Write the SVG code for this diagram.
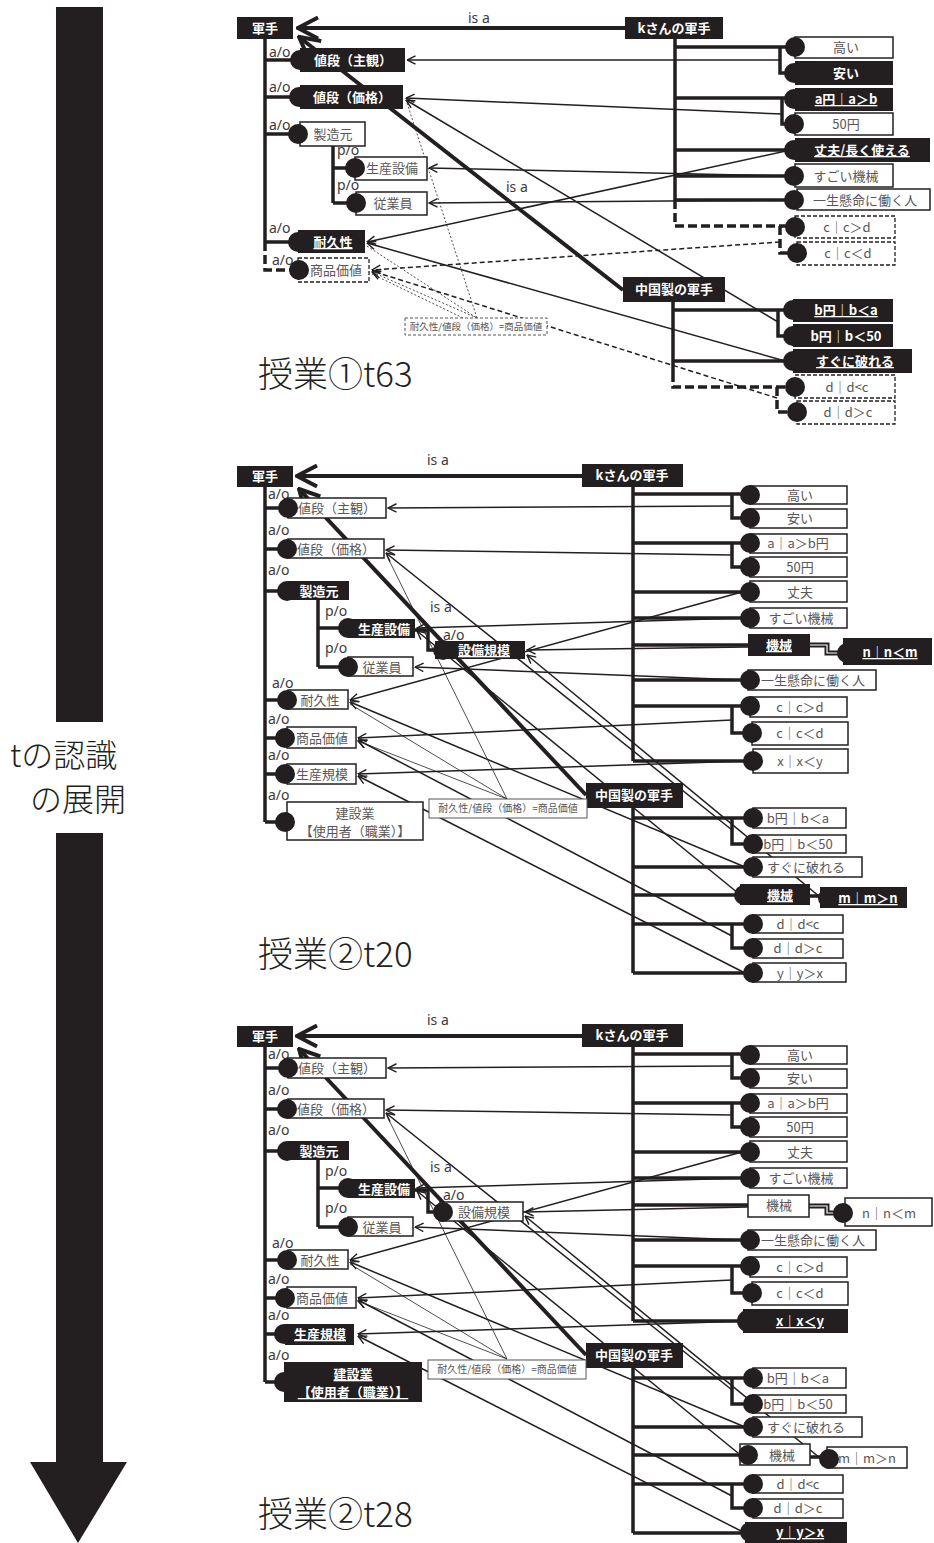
<svg xmlns="http://www.w3.org/2000/svg" width="934" height="1543" viewBox="0 0 934 1543">
<defs>
<style>
.bk{fill:#231f20}
.wb{fill:#fff;stroke:#231f20;stroke-width:1.5}
.db{fill:#fff;stroke:#231f20;stroke-width:1.3;stroke-dasharray:4 2}
.fb{fill:#fff;stroke:#595757;stroke-width:1}
.fbd{fill:#fff;stroke:#595757;stroke-width:1;stroke-dasharray:3 2}
.tw{font-family:"Noto Sans CJK JP","Noto Sans",sans-serif;font-size:13px;font-weight:700;fill:#fff;text-anchor:middle}
.tg{font-family:"Noto Sans CJK JP","Noto Sans",sans-serif;font-size:13px;fill:#595757;text-anchor:middle}
.u{text-decoration:underline}
.fm{font-family:"Noto Sans CJK JP","Noto Sans",sans-serif;font-size:10px;fill:#595757;text-anchor:middle}
.tr{fill:none;stroke:#231f20;stroke-width:3.5}
.trd{fill:none;stroke:#231f20;stroke-width:3.5;stroke-dasharray:9 4}
.hl{fill:none;stroke:#fff;stroke-width:1.2}
.ln{fill:none;stroke:#231f20;stroke-width:1.5;marker-end:url(#oa)}
.lnd{fill:none;stroke:#231f20;stroke-width:1.5;stroke-dasharray:5 3;marker-end:url(#oa)}
.ldt{fill:none;stroke:#231f20;stroke-width:0.8;stroke-dasharray:2 2}
.lt{fill:none;stroke:#231f20;stroke-width:0.8}
.isa{fill:none;stroke:#231f20;stroke-width:4;marker-end:url(#ba)}
.lb{font-family:"Noto Sans","Liberation Sans",sans-serif;font-size:14px;fill:#3e3a39}
.ttl{font-family:"Noto Sans CJK JP","Noto Sans",sans-serif;font-size:35px;font-weight:300;fill:#231f20}
.side{font-family:"Noto Sans CJK JP","Noto Sans",sans-serif;font-size:32px;font-weight:300;fill:#231f20}
</style>
<marker id="oa" viewBox="0 0 10 10" refX="9.5" refY="5" markerWidth="10" markerHeight="10" markerUnits="userSpaceOnUse" orient="auto"><path d="M1,0.8 L9.5,5 L1,9.2" fill="none" stroke="#231f20" stroke-width="1.4"/></marker>
<marker id="ba" viewBox="0 0 24 24" refX="22" refY="12" markerWidth="24" markerHeight="24" markerUnits="userSpaceOnUse" orient="auto"><path d="M2,1.5 L22,12 L2,22.5" fill="none" stroke="#231f20" stroke-width="4"/></marker>
</defs>
<rect width="934" height="1543" fill="#fff"/>

<g id="time-arrow">
<rect x="56" y="7" width="47" height="715" class="bk"/>
<rect x="56" y="833" width="47" height="630" class="bk"/>
<polygon points="30,1462 127,1462 78,1543" class="bk"/>
<text class="side" x="10" y="767">tの認識</text>
<text class="side" x="30" y="811">の展開</text>
</g>

<!-- ================= SECTION 1 ================= -->
<g id="s1">
<g id="s1-connectors">
<path class="isa" d="M625,28 L298,28"/>
<path class="isa" d="M623,290 L299,37"/>
<text class="lb" x="468" y="23">is a</text>
<text class="lb" x="506" y="192">is a</text>
<path class="tr" d="M265,39 V242 M265,60 H292 M265,97 H291 M265,134 H290 M265,242 H290 M333,146 V203 M333,168 H347 M333,203 H348"/>
<path class="trd" d="M265,242 V270 H290"/>
<path class="tr" d="M675,39 V200 M675,47 H787 M780,47 V73 H786 M675,98 H786 M782,98 V124 H786 M675,150 H786 M675,176 H786 M675,200 H786"/>
<path class="trd" d="M675,200 V226 H787 M780,226 V253 H789"/>
<path class="tr" d="M673,302 V373 M673,310 H785 M778,310 V336 H785 M673,361 H785"/>
<path class="trd" d="M673,373 V387 H787 M777,387 V412 H789"/>
<text class="lb" x="269" y="57">a/o</text>
<text class="lb" x="269" y="92">a/o</text>
<text class="lb" x="269" y="130">a/o</text>
<text class="lb" x="269" y="233">a/o</text>
<text class="lb" x="272" y="265">a/o</text>
<text class="lb" x="337" y="155">p/o</text>
<text class="lb" x="337" y="190">p/o</text>
<path class="ln" d="M780,60 L407,60"/>
<path class="ln" d="M782,114 L406,98"/>
<path class="ln" d="M778,322 L406,100"/>
<path class="ln" d="M786,176 L429,168"/>
<path class="ln" d="M786,200 L429,203"/>
<path class="ln" d="M786,151 L367,242"/>
<path class="ln" d="M785,361 L367,243"/>
<path class="lnd" d="M780,242 L372,270"/>
<path class="lnd" d="M777,398 L372,271"/>
<path class="ldt" d="M407,103 L477,318"/>
<path class="ldt" d="M367,246 L477,318"/>
<path class="ldt" d="M477,318 L372,272" style="marker-end:url(#oa)"/>
<path class="ldt" d="M463,318 L372,274"/>
</g>
<g id="s1-gunte"><rect class="bk" x="237" y="17" width="56" height="22"/><text class="tw" x="265" y="33">軍手</text></g>
<g id="s1-k"><rect class="bk" x="625" y="17" width="98" height="22"/><text class="tw" x="674" y="33">kさんの軍手</text></g>
<g id="s1-china"><rect class="bk" x="623" y="277" width="102" height="25"/><text class="tw" x="674" y="294">中国製の軍手</text></g>
<g id="s1-nedan-shukan"><rect class="bk" x="300" y="48" width="105" height="24"/><circle class="bk" cx="300" cy="60" r="10"/><text class="tw" x="353" y="65">値段（主観）</text></g>
<g id="s1-nedan-kakaku"><rect class="bk" x="300" y="85" width="103" height="24"/><circle class="bk" cx="299" cy="97" r="10"/><text class="tw" x="352" y="102">値段（価格）</text></g>
<g id="s1-seizomoto"><rect class="wb" x="300" y="122" width="65" height="24"/><circle class="bk" cx="298" cy="134" r="10"/><text class="tg" x="333" y="139">製造元</text></g>
<g id="s1-seisan-setsubi"><rect class="wb" x="355" y="157" width="72" height="23"/><circle class="bk" cx="355" cy="168" r="10"/><text class="tg" x="392" y="173">生産設備</text></g>
<g id="s1-jugyoin"><rect class="wb" x="356" y="192" width="71" height="23"/><circle class="bk" cx="356" cy="203" r="10"/><text class="tg" x="393" y="208">従業員</text></g>
<g id="s1-taikyusei"><rect class="bk" x="298" y="230" width="67" height="23"/><circle class="bk" cx="298" cy="242" r="10"/><text class="tw u" x="333" y="247">耐久性</text></g>
<g id="s1-shohin-kachi"><rect class="db" x="298" y="258" width="71" height="24"/><circle class="bk" cx="299" cy="270" r="10"/><text class="tg" x="336" y="275">商品価値</text></g>
<g id="s1-formula"><rect class="fbd" x="405" y="318" width="142" height="17"/><text class="fm" x="476" y="330" style="font-size:9.5px">耐久性/値段（価格）=商品価値</text></g>
<g id="s1-takai"><rect class="wb" x="795" y="37" width="98" height="21"/><circle class="bk" cx="795" cy="47" r="10"/><text class="tg" x="846" y="52">高い</text></g>
<g id="s1-yasui"><rect class="bk" x="795" y="61" width="98" height="24"/><circle class="bk" cx="794" cy="73" r="10"/><text class="tw" x="846" y="78">安い</text></g>
<g id="s1-a"><rect class="bk" x="795" y="88" width="98" height="23"/><circle class="bk" cx="794" cy="99" r="10"/><text class="tw u" x="846" y="104">a円｜a＞b</text></g>
<g id="s1-50"><rect class="wb" x="795" y="113" width="98" height="22"/><circle class="bk" cx="794" cy="124" r="10"/><text class="tg" x="846" y="129">50円</text></g>
<g id="s1-joubu"><rect class="bk" x="795" y="138" width="135" height="24"/><circle class="bk" cx="794" cy="150" r="10"/><text class="tw u" x="862" y="155">丈夫/長く使える</text></g>
<g id="s1-sugoi"><rect class="wb" x="795" y="164" width="98" height="23"/><circle class="bk" cx="794" cy="176" r="10"/><text class="tg" x="846" y="181">すごい機械</text></g>
<g id="s1-isshou"><rect class="wb" x="797" y="189" width="133" height="21"/><circle class="bk" cx="794" cy="200" r="10"/><text class="tg" x="865" y="205">一生懸命に働く人</text></g>
<g id="s1-cgt"><rect class="db" x="795" y="216" width="100" height="22"/><circle class="bk" cx="795" cy="227" r="10"/><text class="tg" x="847" y="232">c｜c＞d</text></g>
<g id="s1-clt"><rect class="db" x="797" y="242" width="98" height="23"/><circle class="bk" cx="797" cy="253" r="10"/><text class="tg" x="848" y="258">c｜c＜d</text></g>
<g id="s1-blta"><rect class="bk" x="793" y="299" width="100" height="23"/><circle class="bk" cx="793" cy="310" r="10"/><text class="tw u" x="846" y="315">b円｜b＜a</text></g>
<g id="s1-blt50"><rect class="bk" x="793" y="324" width="100" height="23"/><circle class="bk" cx="793" cy="336" r="10"/><text class="tw" x="846" y="341">b円｜b＜50</text></g>
<g id="s1-sugu"><rect class="bk" x="793" y="349" width="119" height="24"/><circle class="bk" cx="793" cy="361" r="10"/><text class="tw u" x="855" y="366">すぐに破れる</text></g>
<g id="s1-dltc"><rect class="db" x="795" y="375" width="100" height="23"/><circle class="bk" cx="795" cy="387" r="10"/><text class="tg" x="847" y="392">d｜d&lt;c</text></g>
<g id="s1-dgtc"><rect class="db" x="797" y="401" width="98" height="23"/><circle class="bk" cx="797" cy="412" r="10"/><text class="tg" x="848" y="417">d｜d＞c</text></g>
<text class="ttl" x="258" y="387">授業①t63</text>
</g>

<!-- ================= SECTION 2 ================= -->
<g id="s2">
<g id="s2-connectors">
<path class="isa" d="M582,476 L297,476"/>
<path class="isa" d="M586,795 L299,489"/>
<text class="lb" x="427" y="465">is a</text>
<text class="lb" x="430" y="612">is a</text>
<path class="tr" d="M265,487 V822 M265,508 H280 M265,549 H279 M265,591 H279 M265,700 H279 M265,738 H277 M265,774 H277 M265,822 H277 M318,600 V667 M318,628 H340 M318,667 H340 M415,630 H428 V650 H435"/>
<path class="tr" d="M633,487 V761 M633,494 H742 M732,494 V518 H742 M633,543 H742 M732,543 V567 H742 M633,592 H742 M633,618 H742 M633,645 H748 M633,680 H742 M633,706 H742 M732,706 V733 H744 M633,761 H745"/>
<path class="tr" d="M810,645 H827 V653 H839" style="stroke-width:5"/>
<path class="hl" d="M810,645 H827 V653 H839"/>
<path class="tr" d="M633,808 V973 M633,818 H745 M732,818 V844 H745 M633,867 H745 M633,895 H736 M810,896 H820 M633,924 H745 M732,924 V948 H745 M633,973 H745"/>
<text class="lb" x="268" y="499">a/o</text>
<text class="lb" x="268" y="535">a/o</text>
<text class="lb" x="268" y="575">a/o</text>
<text class="lb" x="272" y="688">a/o</text>
<text class="lb" x="268" y="724">a/o</text>
<text class="lb" x="268" y="760">a/o</text>
<text class="lb" x="268" y="800">a/o</text>
<text class="lb" x="325" y="616">p/o</text>
<text class="lb" x="325" y="653">p/o</text>
<text class="lb" x="443" y="640">a/o</text>
<path class="ln" d="M732,506 L388,508"/>
<path class="ln" d="M732,555 L386,550"/>
<path class="ln" d="M732,830 L386,553"/>
<path class="ln" d="M742,618 L417,628"/>
<path class="ln" d="M748,647 L527,650"/>
<path class="ln" d="M742,680 L415,667"/>
<path class="ln" d="M742,592 L350,700"/>
<path class="ln" d="M745,867 L350,702"/>
<path class="ln" d="M732,720 L358,738"/>
<path class="ln" d="M732,936 L358,740"/>
<path class="ln" d="M745,761 L358,774"/>
<path class="ln" d="M745,973 L358,776"/>
<path class="ln" d="M820,897 L527,655"/>
<path class="ln" d="M738,893 L417,631"/>
<path class="lt" d="M387,556 L507,799"/>
<path class="lt" d="M350,704 L507,799"/>
<path class="lt" d="M507,799 L358,741" style="marker-end:url(#oa)"/>
</g>
<g id="s2-gunte"><rect class="bk" x="237" y="466" width="56" height="21"/><text class="tw" x="265" y="481">軍手</text></g>
<g id="s2-k"><rect class="bk" x="582" y="464" width="101" height="23"/><text class="tw" x="632" y="480">kさんの軍手</text></g>
<g id="s2-china"><rect class="bk" x="586" y="783" width="97" height="25"/><text class="tw" x="634" y="800">中国製の軍手</text></g>
<g id="s2-nedan-shukan"><rect class="wb" x="288" y="498" width="98" height="20"/><circle class="bk" cx="288" cy="508" r="10"/><text class="tg" x="337" y="513">値段（主観）</text></g>
<g id="s2-nedan-kakaku"><rect class="wb" x="288" y="539" width="96" height="19"/><circle class="bk" cx="287" cy="549" r="10"/><text class="tg" x="336" y="554">値段（価格）</text></g>
<g id="s2-seizomoto"><rect class="bk" x="288" y="581" width="61" height="19"/><circle class="bk" cx="287" cy="591" r="10"/><text class="tw" x="319" y="596">製造元</text></g>
<g id="s2-seisan-setsubi"><rect class="bk" x="348" y="619" width="67" height="19"/><circle class="bk" cx="348" cy="628" r="10"/><text class="tw" x="384" y="634">生産設備</text></g>
<g id="s2-jugyoin"><rect class="wb" x="348" y="657" width="65" height="19"/><circle class="bk" cx="348" cy="667" r="10"/><text class="tg" x="382" y="672">従業員</text></g>
<g id="s2-setsubi-kibo"><rect class="bk" x="435" y="641" width="90" height="18"/><circle class="bk" cx="443" cy="650" r="10"/><text class="tw u" x="484" y="655">設備規模</text></g>
<g id="s2-taikyusei"><rect class="wb" x="288" y="690" width="60" height="19"/><circle class="bk" cx="287" cy="700" r="10"/><text class="tg" x="320" y="705">耐久性</text></g>
<g id="s2-shohin-kachi"><rect class="wb" x="287" y="727" width="69" height="21"/><circle class="bk" cx="285" cy="738" r="10"/><text class="tg" x="322" y="743">商品価値</text></g>
<g id="s2-seisan-kibo"><rect class="wb" x="287" y="764" width="69" height="20"/><circle class="bk" cx="285" cy="774" r="10"/><text class="tg" x="322" y="779">生産規模</text></g>
<g id="s2-kensetsu"><rect class="wb" x="287" y="802" width="136" height="38"/><circle class="bk" cx="285" cy="822" r="10"/><text class="tg" x="355" y="818">建設業</text><text class="tg" x="355" y="836">【使用者（職業）】</text></g>
<g id="s2-formula"><rect class="fb" x="429" y="799" width="158" height="19"/><text class="fm" x="508" y="812">耐久性/値段（価格）=商品価値</text></g>
<g id="s2-takai"><rect class="wb" x="750" y="486" width="97" height="18"/><circle class="bk" cx="750" cy="495" r="10"/><text class="tg" x="800" y="500">高い</text></g>
<g id="s2-yasui"><rect class="wb" x="750" y="509" width="97" height="19"/><circle class="bk" cx="750" cy="518" r="10"/><text class="tg" x="800" y="523">安い</text></g>
<g id="s2-a"><rect class="wb" x="750" y="534" width="97" height="19"/><circle class="bk" cx="750" cy="543" r="10"/><text class="tg" x="798" y="548">a｜a＞b円</text></g>
<g id="s2-50"><rect class="wb" x="750" y="557" width="97" height="20"/><circle class="bk" cx="750" cy="567" r="10"/><text class="tg" x="800" y="572">50円</text></g>
<g id="s2-joubu"><rect class="wb" x="750" y="581" width="97" height="21"/><circle class="bk" cx="750" cy="592" r="10"/><text class="tg" x="800" y="597">丈夫</text></g>
<g id="s2-sugoi"><rect class="wb" x="750" y="608" width="97" height="20"/><circle class="bk" cx="750" cy="618" r="10"/><text class="tg" x="801" y="623">すごい機械</text></g>
<g id="s2-kikai-k"><rect class="bk" x="748" y="634" width="62" height="22"/><text class="tw u" x="779" y="650">機械</text></g>
<g id="s2-n"><rect class="bk" x="843" y="638" width="89" height="27"/><circle class="bk" cx="847" cy="653" r="10"/><text class="tw u" x="890" y="657">n｜n＜m</text></g>
<g id="s2-isshou"><rect class="wb" x="748" y="670" width="128" height="20"/><circle class="bk" cx="750" cy="680" r="10"/><text class="tg" x="813" y="685">一生懸命に働く人</text></g>
<g id="s2-cgt"><rect class="wb" x="750" y="697" width="97" height="20"/><circle class="bk" cx="750" cy="706" r="10"/><text class="tg" x="800" y="712">c｜c＞d</text></g>
<g id="s2-clt"><rect class="wb" x="752" y="722" width="96" height="23"/><circle class="bk" cx="752" cy="733" r="10"/><text class="tg" x="800" y="738">c｜c＜d</text></g>
<g id="s2-xlty"><rect class="wb" x="753" y="749" width="95" height="24"/><circle class="bk" cx="753" cy="761" r="10"/><text class="tg" x="800" y="766">x｜x＜y</text></g>
<g id="s2-blta"><rect class="wb" x="753" y="808" width="93" height="20"/><circle class="bk" cx="753" cy="818" r="10"/><text class="tg" x="798" y="823">b円｜b＜a</text></g>
<g id="s2-blt50"><rect class="wb" x="753" y="835" width="93" height="18"/><circle class="bk" cx="753" cy="844" r="10"/><text class="tg" x="798" y="849">b円｜b＜50</text></g>
<g id="s2-sugu"><rect class="wb" x="753" y="857" width="109" height="20"/><circle class="bk" cx="753" cy="867" r="10"/><text class="tg" x="806" y="872">すぐに破れる</text></g>
<g id="s2-kikai-c"><rect class="bk" x="740" y="884" width="70" height="21"/><circle class="bk" cx="744" cy="895" r="10"/><text class="tw u" x="780" y="900">機械</text></g>
<g id="s2-m"><rect class="bk" x="820" y="887" width="87" height="21"/><circle class="bk" cx="828" cy="898" r="10"/><text class="tw u" x="868" y="903">m｜m＞n</text></g>
<g id="s2-dltc"><rect class="wb" x="753" y="915" width="90" height="18"/><circle class="bk" cx="753" cy="924" r="10"/><text class="tg" x="798" y="929">d｜d&lt;c</text></g>
<g id="s2-dgtc"><rect class="wb" x="753" y="939" width="90" height="19"/><circle class="bk" cx="753" cy="948" r="10"/><text class="tg" x="798" y="953">d｜d＞c</text></g>
<g id="s2-yrtx"><rect class="wb" x="753" y="963" width="93" height="19"/><circle class="bk" cx="753" cy="973" r="10"/><text class="tg" x="800" y="978">y｜y＞x</text></g>
<text class="ttl" x="258" y="967">授業②t20</text>
</g>

<!-- ================= SECTION 3 ================= -->
<g id="s3" transform="translate(0,560)">
<g id="s3-connectors">
<path class="isa" d="M582,476 L297,476"/>
<path class="isa" d="M586,795 L299,489"/>
<text class="lb" x="427" y="465">is a</text>
<text class="lb" x="430" y="612">is a</text>
<path class="tr" d="M265,487 V822 M265,508 H280 M265,549 H279 M265,591 H279 M265,700 H279 M265,738 H277 M265,774 H277 M265,822 H277 M318,600 V667 M318,628 H340 M318,667 H340 M415,630 H428 V652 H435"/>
<path class="tr" d="M633,487 V761 M633,494 H742 M732,494 V518 H742 M633,543 H742 M732,543 V567 H742 M633,592 H742 M633,618 H742 M633,645 H748 M633,680 H742 M633,706 H742 M732,706 V733 H744 M633,761 H745"/>
<path class="tr" d="M809,646 H827 V653 H837" style="stroke-width:5"/>
<path class="hl" d="M809,646 H827 V653 H837"/>
<path class="tr" d="M633,808 V973 M633,818 H745 M732,818 V844 H745 M633,867 H745 M633,895 H740 M810,897 H820 M633,924 H745 M732,924 V948 H745 M633,973 H745"/>
<text class="lb" x="268" y="499">a/o</text>
<text class="lb" x="268" y="535">a/o</text>
<text class="lb" x="268" y="575">a/o</text>
<text class="lb" x="272" y="688">a/o</text>
<text class="lb" x="268" y="724">a/o</text>
<text class="lb" x="268" y="760">a/o</text>
<text class="lb" x="268" y="800">a/o</text>
<text class="lb" x="325" y="616">p/o</text>
<text class="lb" x="325" y="653">p/o</text>
<text class="lb" x="443" y="640">a/o</text>
<path class="ln" d="M732,506 L388,508"/>
<path class="ln" d="M732,555 L386,550"/>
<path class="ln" d="M732,830 L386,553"/>
<path class="ln" d="M742,618 L417,628"/>
<path class="ln" d="M748,647 L525,652"/>
<path class="ln" d="M742,680 L415,667"/>
<path class="ln" d="M742,592 L350,700"/>
<path class="ln" d="M745,867 L350,702"/>
<path class="ln" d="M732,720 L358,738"/>
<path class="ln" d="M732,936 L358,740"/>
<path class="ln" d="M745,761 L358,774"/>
<path class="ln" d="M745,973 L358,776"/>
<path class="ln" d="M820,898 L525,656"/>
<path class="ln" d="M738,893 L417,631"/>
<path class="lt" d="M387,556 L507,799"/>
<path class="lt" d="M350,704 L507,799"/>
<path class="lt" d="M507,799 L358,741" style="marker-end:url(#oa)"/>
</g>
<g id="s3-gunte"><rect class="bk" x="237" y="466" width="56" height="21"/><text class="tw" x="265" y="481">軍手</text></g>
<g id="s3-k"><rect class="bk" x="582" y="464" width="101" height="23"/><text class="tw" x="632" y="480">kさんの軍手</text></g>
<g id="s3-china"><rect class="bk" x="586" y="783" width="97" height="25"/><text class="tw" x="634" y="800">中国製の軍手</text></g>
<g id="s3-nedan-shukan"><rect class="wb" x="288" y="498" width="98" height="20"/><circle class="bk" cx="288" cy="508" r="10"/><text class="tg" x="337" y="513">値段（主観）</text></g>
<g id="s3-nedan-kakaku"><rect class="wb" x="288" y="539" width="96" height="19"/><circle class="bk" cx="287" cy="549" r="10"/><text class="tg" x="336" y="554">値段（価格）</text></g>
<g id="s3-seizomoto"><rect class="bk" x="288" y="581" width="61" height="19"/><circle class="bk" cx="287" cy="591" r="10"/><text class="tw" x="319" y="596">製造元</text></g>
<g id="s3-seisan-setsubi"><rect class="bk" x="348" y="619" width="67" height="19"/><circle class="bk" cx="348" cy="628" r="10"/><text class="tw" x="384" y="634">生産設備</text></g>
<g id="s3-jugyoin"><rect class="wb" x="348" y="657" width="65" height="19"/><circle class="bk" cx="348" cy="667" r="10"/><text class="tg" x="382" y="672">従業員</text></g>
<g id="s3-setsubi-kibo"><rect class="wb" x="440" y="642" width="83" height="19"/><circle class="bk" cx="443" cy="652" r="10"/><text class="tg" x="484" y="657">設備規模</text></g>
<g id="s3-taikyusei"><rect class="wb" x="288" y="690" width="60" height="19"/><circle class="bk" cx="287" cy="700" r="10"/><text class="tg" x="320" y="705">耐久性</text></g>
<g id="s3-shohin-kachi"><rect class="wb" x="287" y="727" width="69" height="21"/><circle class="bk" cx="285" cy="738" r="10"/><text class="tg" x="322" y="743">商品価値</text></g>
<g id="s3-seisan-kibo"><rect class="bk" x="285" y="764" width="69" height="21"/><circle class="bk" cx="284" cy="774" r="10"/><text class="tw u" x="320" y="779">生産規模</text></g>
<g id="s3-kensetsu"><rect class="bk" x="284" y="802" width="138" height="40"/><circle class="bk" cx="284" cy="822" r="10"/><text class="tw u" x="353" y="819">建設業</text><text class="tw u" x="353" y="837">【使用者（職業）】</text></g>
<g id="s3-formula"><rect class="fb" x="428" y="800" width="158" height="19"/><text class="fm" x="507" y="813">耐久性/値段（価格）=商品価値</text></g>
<g id="s3-takai"><rect class="wb" x="750" y="486" width="97" height="18"/><circle class="bk" cx="750" cy="495" r="10"/><text class="tg" x="800" y="500">高い</text></g>
<g id="s3-yasui"><rect class="wb" x="750" y="509" width="97" height="19"/><circle class="bk" cx="750" cy="518" r="10"/><text class="tg" x="800" y="523">安い</text></g>
<g id="s3-a"><rect class="wb" x="750" y="534" width="97" height="19"/><circle class="bk" cx="750" cy="543" r="10"/><text class="tg" x="798" y="548">a｜a＞b円</text></g>
<g id="s3-50"><rect class="wb" x="750" y="557" width="97" height="20"/><circle class="bk" cx="750" cy="567" r="10"/><text class="tg" x="800" y="572">50円</text></g>
<g id="s3-joubu"><rect class="wb" x="750" y="581" width="97" height="21"/><circle class="bk" cx="750" cy="592" r="10"/><text class="tg" x="800" y="597">丈夫</text></g>
<g id="s3-sugoi"><rect class="wb" x="750" y="608" width="97" height="20"/><circle class="bk" cx="750" cy="618" r="10"/><text class="tg" x="801" y="623">すごい機械</text></g>
<g id="s3-kikai-k"><rect class="wb" x="748" y="635" width="61" height="22"/><text class="tg" x="779" y="650">機械</text></g>
<g id="s3-n"><rect class="wb" x="845" y="638" width="87" height="28"/><circle class="bk" cx="843" cy="653" r="10"/><text class="tg" x="889" y="658">n｜n＜m</text></g>
<g id="s3-isshou"><rect class="wb" x="748" y="670" width="128" height="20"/><circle class="bk" cx="750" cy="680" r="10"/><text class="tg" x="813" y="685">一生懸命に働く人</text></g>
<g id="s3-cgt"><rect class="wb" x="750" y="697" width="97" height="20"/><circle class="bk" cx="750" cy="706" r="10"/><text class="tg" x="800" y="712">c｜c＞d</text></g>
<g id="s3-clt"><rect class="wb" x="752" y="722" width="96" height="23"/><circle class="bk" cx="752" cy="733" r="10"/><text class="tg" x="800" y="738">c｜c＜d</text></g>
<g id="s3-xlty"><rect class="bk" x="743" y="749" width="105" height="24"/><circle class="bk" cx="748" cy="761" r="11"/><text class="tw u" x="800" y="766">x｜x＜y</text></g>
<g id="s3-blta"><rect class="wb" x="753" y="808" width="93" height="20"/><circle class="bk" cx="753" cy="818" r="10"/><text class="tg" x="798" y="823">b円｜b＜a</text></g>
<g id="s3-blt50"><rect class="wb" x="753" y="835" width="93" height="18"/><circle class="bk" cx="753" cy="844" r="10"/><text class="tg" x="798" y="849">b円｜b＜50</text></g>
<g id="s3-sugu"><rect class="wb" x="753" y="857" width="109" height="20"/><circle class="bk" cx="753" cy="867" r="10"/><text class="tg" x="806" y="872">すぐに破れる</text></g>
<g id="s3-kikai-c"><rect class="wb" x="740" y="884" width="70" height="21"/><circle class="bk" cx="748" cy="895" r="10"/><text class="tg" x="782" y="900">機械</text></g>
<g id="s3-m"><rect class="wb" x="827" y="887" width="80" height="21"/><circle class="bk" cx="829" cy="899" r="10"/><text class="tg" x="867" y="903">m｜m＞n</text></g>
<g id="s3-dltc"><rect class="wb" x="753" y="915" width="90" height="18"/><circle class="bk" cx="753" cy="924" r="10"/><text class="tg" x="798" y="929">d｜d&lt;c</text></g>
<g id="s3-dgtc"><rect class="wb" x="753" y="939" width="90" height="19"/><circle class="bk" cx="753" cy="948" r="10"/><text class="tg" x="798" y="953">d｜d＞c</text></g>
<g id="s3-yrtx"><rect class="bk" x="745" y="962" width="102" height="21"/><circle class="bk" cx="750" cy="972" r="10"/><text class="tw u" x="800" y="977">y｜y＞x</text></g>
<text class="ttl" x="258" y="967">授業②t28</text>
</g>
</svg>
